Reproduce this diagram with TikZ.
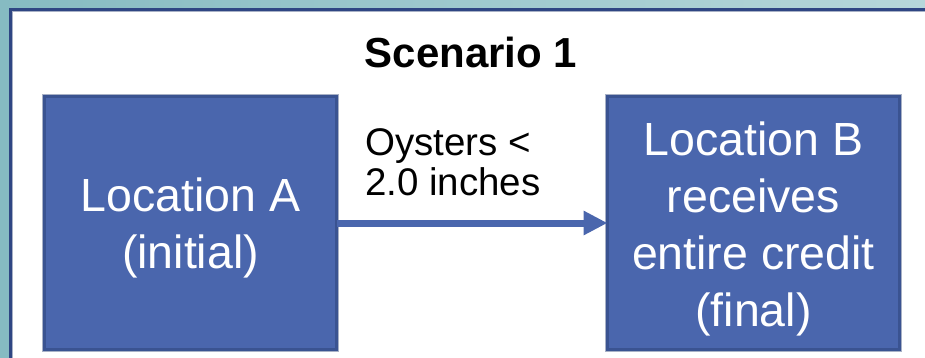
\documentclass[tikz,border=0pt]{standalone}
\usepackage{fontspec}
\setmainfont{Liberation Sans}
\usetikzlibrary{arrows.meta}
\definecolor{tealL}{HTML}{86BBC2}
\definecolor{tealR}{HTML}{B6D7DA}
\definecolor{frameblue}{HTML}{2F4683}
\definecolor{boxfill}{HTML}{4A66AD}
\definecolor{boxedge}{HTML}{3A5391}
\definecolor{rimgray}{HTML}{A8B1C6}
\begin{document}
\begin{tikzpicture}[x=1pt,y=-1pt,
  locbox/.style={draw=boxedge, fill=boxfill, line width=3pt, inner sep=0pt, outer sep=0pt,
    minimum width=292pt, minimum height=253pt},
  rim/.style={draw=rimgray, line width=0.8pt},
  boxtext/.style={text=white, align=center, inner sep=0pt,
    font=\fontsize{46.5}{57}\selectfont},
  flow/.style={draw=boxfill, line width=7pt, -{Triangle[length=24pt,width=23pt]}},
  caption/.style={inner sep=0pt, align=left, font=\fontsize{38.5}{40}\selectfont},
  heading/.style={inner sep=0pt, font=\bfseries\fontsize{42}{46}\selectfont}]
  \useasboundingbox (0,0) rectangle (925,357);
  % teal backdrop and white panel
  \shade[left color=tealL, right color=tealR] (0,0) rectangle (925,357);
  \fill[white] (10.5,9) rectangle (930,362);
  \draw[frameblue, line width=3pt] (10.5,362) -- (10.5,9) -- (930,9);
  \draw[rimgray, line width=0.8pt] (12.4,362) -- (12.4,10.9) -- (930,10.9);

  % title
  \node[heading, anchor=base] (title) at (471,67) {Scenario 1};

  % the two locations
  \node[locbox] (boxA) at (190.5,223) {};
  \node[locbox] (boxB) at (753.5,223) {};
  \draw[rim] ([shift={(-2,-2)}]boxA.north west) rectangle ([shift={(2,2)}]boxA.south east);
  \draw[rim] ([shift={(-2,-2)}]boxB.north west) rectangle ([shift={(2,2)}]boxB.south east);
  \node[boxtext] (textA) at ([yshift=-5pt]boxA.center) {Location A\\(initial)};
  \node[boxtext] (textB) at ([yshift=-6pt]boxB.center) {Location B\\receives\\entire credit\\(final)};

  % transfer arrow and its label
  \draw[flow] (boxA.east) -- (boxB.west);
  \node[caption, anchor=west] (cond) at (365,162) {Oysters <\\2.0 inches};
\end{tikzpicture}
\end{document}
